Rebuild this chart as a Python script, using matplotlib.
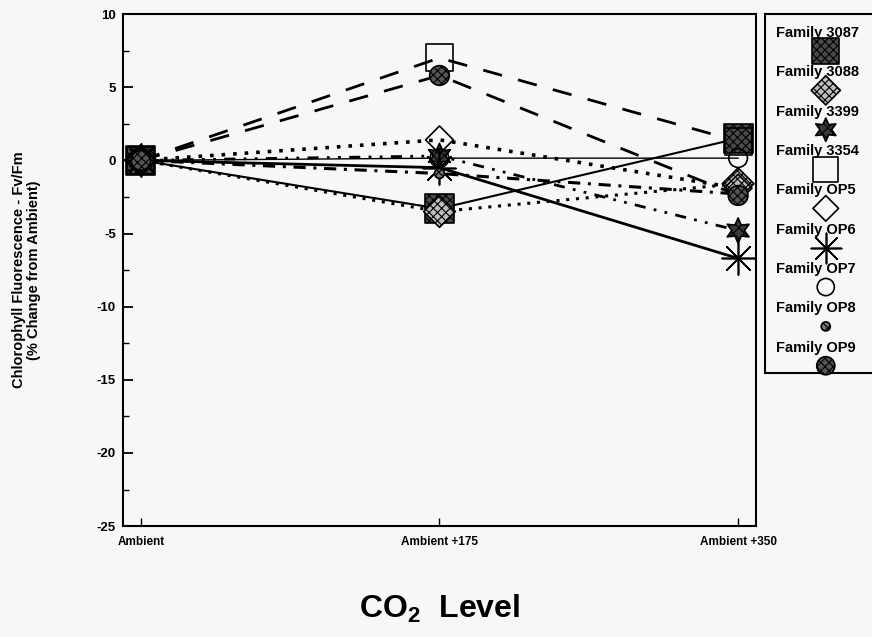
import matplotlib as mpl
import matplotlib.pyplot as plt
from matplotlib.ticker import MultipleLocator

mpl.rcParams.update({
    "font.family": ["Liberation Sans", "DejaVu Sans"],
    "font.size": 9,
    "mathtext.fontset": "custom",
    "mathtext.bf": "Liberation Sans:bold",
    "mathtext.rm": "Liberation Sans",
    "hatch.linewidth": 0.8,
    "axes.unicode_minus": False,
})

# CO2 levels and % change in Fv/Fm per family
levels = ["Ambient", "Ambient +175", "Ambient +350"]
families = ["Family 3087", "Family 3088", "Family 3399", "Family 3354",
            "Family OP5", "Family OP6", "Family OP7", "Family OP8", "Family OP9"]
fam_3087 = [0.0, -3.3, 1.5]
fam_3088 = [0.0, -3.5, -1.6]
fam_3399 = [0.0, 0.3, -4.8]
fam_3354 = [0.0, 7.0, 1.3]
fam_op5 = [0.0, 1.4, -1.9]
fam_op6 = [0.0, -0.5, -6.7]
fam_op7 = [0.0, 0.15, 0.15]
fam_op8 = [0.0, -0.9, -2.3]
fam_op9 = [0.0, 5.8, -2.4]
series = [fam_3087, fam_3088, fam_3399, fam_3354, fam_op5,
          fam_op6, fam_op7, fam_op8, fam_op9]

# marker, size (pt^2 for scatter), face, hatch, line style, line width
styles = [
    ("s", 440, "#4a4a4a", "xxxx", "-", 1.5),
    ("D", 260, "#bdbdbd", "xxxx", (0, (1, 2.2)), 2.2),
    ((6, 1, 0), 330, "#3a3a3a", "xxx", (0, (4, 3, 1, 3, 1, 3)), 2.0),
    ("s", 380, "none", None, (0, (7, 6)), 2.0),
    ("D", 200, "none", None, (0, (1, 2.2)), 2.6),
    ((8, 2, 0), 560, "k", None, "-", 2.0),
    ("o", 180, "none", None, "-", 1.0),
    ("o", 50, "#777777", "xxx", (0, (4, 2.5, 1, 2.5)), 2.2),
    ("o", 200, "#555555", "xxxx", (0, (7, 6)), 2.0),
]

bg = "#f7f7f7"
fig = plt.figure(figsize=(8.72, 6.37), dpi=100, facecolor=bg)
ax = fig.add_axes([0.141, 0.174, 0.726, 0.804], facecolor=bg)

x = list(range(len(levels)))
for vals, (mk, sz, fc, hat, ls, lw) in zip(series, styles):
    ax.plot(x, vals, color="k", linestyle=ls, linewidth=lw, zorder=2)
for vals, (mk, sz, fc, hat, ls, lw) in zip(series, styles):
    ax.scatter(x, vals, s=sz, marker=mk, facecolors=fc, edgecolors="k",
               hatch=hat, linewidths=1.2, zorder=3)

ax.set_xlim(-0.06, 2.06)
ax.set_ylim(-25, 10)
ax.set_xticks(x)
ax.set_xticklabels(levels, fontsize=8.5, fontweight="bold")
ax.yaxis.set_major_locator(MultipleLocator(5))
ax.yaxis.set_minor_locator(MultipleLocator(2.5))
ax.tick_params(axis="y", which="major", direction="in", length=7, width=1.3,
               labelsize=9.5, pad=5)
ax.tick_params(axis="y", which="minor", direction="in", length=4, width=1.0)
ax.tick_params(axis="x", direction="in", length=6, width=1.0, pad=7)
for lab in ax.get_yticklabels():
    lab.set_fontweight("bold")
for sp in ax.spines.values():
    sp.set_linewidth(1.5)

ax.set_ylabel("Chlorophyll Fluorescence - Fv/Fm\n(% Change from Ambient)",
              fontsize=10.5, fontweight="bold", labelpad=40, linespacing=1.1)
ax.set_xlabel(r"CO$_\mathbf{2}$  Level", fontsize=23, fontweight="bold",
              labelpad=32)

# legend box: name above, marker below, right edge runs off the page
leg = fig.add_axes([0.877, 0.414, 0.14, 0.564], facecolor=bg)
leg.set_xlim(0, 1)
leg.set_ylim(0, 1)
leg.set_xticks([])
leg.set_yticks([])
for sp in leg.spines.values():
    sp.set_linewidth(1.5)
for i, (name, (mk, sz, fc, hat, ls, lw)) in enumerate(zip(families, styles)):
    yt = 0.947 - i * 0.1095
    leg.text(0.09, yt, name, fontsize=10.5, fontweight="bold",
             va="center", ha="left")
    leg.scatter([0.5], [yt - 0.05], s=sz * 0.85, marker=mk, facecolors=fc,
                edgecolors="k", hatch=hat, linewidths=1.2, zorder=3,
                clip_on=False)

fig.savefig("out.png", dpi=100, facecolor=bg)
